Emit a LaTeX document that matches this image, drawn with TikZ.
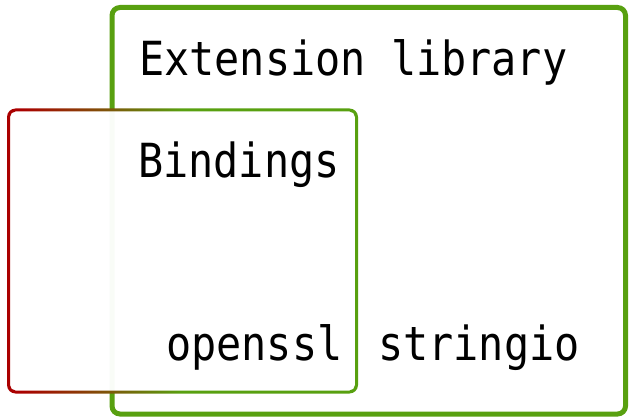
\documentclass[tikz,border=0pt]{standalone}
\usepackage{fontspec}
\newfontfamily\codefont[FakeStretch=0.89]{DejaVu Sans Mono}
\definecolor{extred}{HTML}{AA0000}
\definecolor{extgreen}{HTML}{58A010}
\pgfdeclarehorizontalshading{ringshade}{100bp}{color(0bp)=(extred); color(27bp)=(extred); color(50bp)=(extgreen); color(100bp)=(extgreen)}
\tikzset{
  label text/.style={inner sep=0pt, anchor=base west, font=\codefont\fontsize{47}{54}\selectfont},
}
\begin{document}
\begin{tikzpicture}[x=1pt, y=-1pt]
\useasboundingbox (0,0) rectangle (630,420);
% extension library frame
\draw[extgreen, line width=5pt, rounded corners=8pt] (112,7.5) rectangle (625.5,414);
% bindings frame: translucent white fill, then a red-to-green outline ring
\fill[white, fill opacity=0.97, rounded corners=7pt] (8.5,110) rectangle (356.5,392);
\shade[shading=ringshade, even odd rule]
  [rounded corners=8.5pt] (7,108.5) rectangle (358,393.5)
  [rounded corners=5.5pt] (10,111.5) rectangle (355,390.5);
% labels
\node[label text] (ext) at (139,76) {Extension library};
\node[label text] (bind) at (138,178) {Bindings};
\node[label text] (ssl) at (166,360) {openssl};
\node[label text] (sio) at (378,360) {stringio};
\end{tikzpicture}
\end{document}
